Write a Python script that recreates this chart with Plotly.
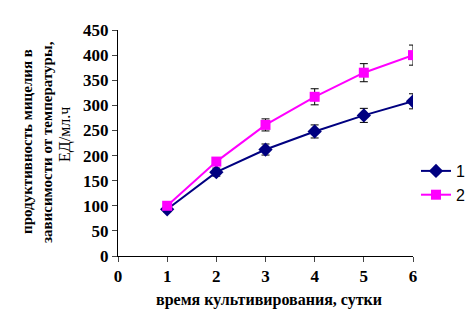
import plotly.graph_objects as go

days = [1, 2, 3, 4, 5, 6]
series1 = [93, 167, 212, 248, 280, 308]
err1 = [5, 8, 11, 13, 14, 15]
series2 = [100, 188, 261, 317, 365, 400]
err2 = [4, 6, 12, 16, 18, 20]
names = ["1", "2"]
x_ticks = [0, 1, 2, 3, 4, 5, 6]
y_ticks = [0, 50, 100, 150, 200, 250, 300, 350, 400, 450]
y_title_lines = ["<b>продуктивность мицелия в</b>", "<b>зависимости от температуры,</b>", "ЕД/мл.ч"]
x_title = "<b>время культивирования, сутки</b>"

fig = go.Figure()
fig.add_trace(go.Scatter(
    x=days, y=series1, name=names[0], mode="lines+markers",
    line=dict(color="#000080", width=2),
    marker=dict(symbol="diamond", size=11, color="#000080"),
    error_y=dict(type="data", array=err1, visible=True, color="black", thickness=1, width=4),
))
fig.add_trace(go.Scatter(
    x=days, y=series2, name=names[1], mode="lines+markers",
    line=dict(color="#FF00FF", width=2),
    marker=dict(symbol="square", size=10, color="#FF00FF"),
    error_y=dict(type="data", array=err2, visible=True, color="black", thickness=1, width=4),
))

font_serif = "Liberation Serif, Times New Roman, serif"
# page has 8px body margin; figure coords = page coords - 8
W, H = 468, 316
L, R, T, B = 110, 63, 22, 68
pw, ph = W - L - R, H - T - B

def px_x(fx):
    return (fx - L) / pw

def px_y(fy):
    return (H - B - fy) / ph

annotations = []
for line, xc, yc, sz in zip(y_title_lines, [19, 39, 57], [134, 134, 127], [15, 15, 16]):
    annotations.append(dict(text=line, x=px_x(xc), y=px_y(yc), xref="paper", yref="paper",
                            showarrow=False, textangle=-90, xanchor="center", yanchor="middle",
                            font=dict(family=font_serif, size=sz, color="black")))
annotations.append(dict(text=x_title, x=px_x(261), y=px_y(292), xref="paper", yref="paper",
                        showarrow=False, xanchor="center", yanchor="middle",
                        font=dict(family=font_serif, size=16, color="black")))

fig.update_layout(
    width=W, height=H,
    margin=dict(l=L, r=R, t=T, b=B, autoexpand=False),
    paper_bgcolor="white", plot_bgcolor="white",
    font=dict(family=font_serif, size=14, color="black"),
    showlegend=True,
    legend=dict(x=1.0 + 3 / pw, y=px_y(175), xanchor="left", yanchor="middle",
                font=dict(family="Liberation Sans, Arial, sans-serif", size=16, color="black"),
                bgcolor="rgba(0,0,0,0)", tracegroupgap=2),
    annotations=annotations,
    xaxis=dict(range=[0, 6], tickvals=x_ticks, ticks="outside", ticklen=5,
               showline=True, linecolor="black", linewidth=1, showgrid=False, zeroline=False,
               automargin=False,
               tickfont=dict(family=font_serif, size=17, color="black", weight="bold")),
    yaxis=dict(range=[0, 450], tickvals=y_ticks, ticks="outside", ticklen=5,
               showline=True, linecolor="black", linewidth=1, showgrid=False, zeroline=False,
               automargin=False,
               tickfont=dict(family=font_serif, size=17, color="black", weight="bold")),
)
fig.write_html("out.html")
